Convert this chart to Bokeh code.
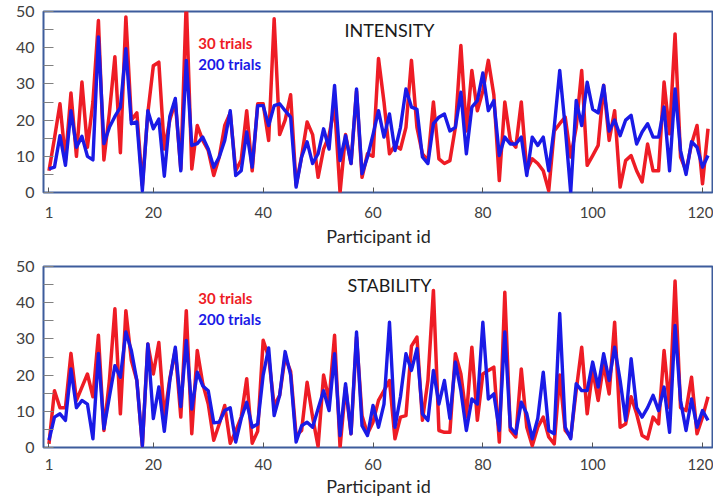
from bokeh.plotting import figure
from bokeh.layouts import column
from bokeh.models import ColumnDataSource, FixedTicker, Label, Range1d
from bokeh.embed import file_html
from bokeh.resources import INLINE

participant_ids = list(range(1, 122))

intensity_30 = [6, 15, 24.5, 9, 27.5, 10, 30.5, 12.5, 25, 47.5,
                9, 22, 37.5, 11, 48.5, 20, 22, 2, 22, 35,
                36, 12, 20, 25, 6.5, 53, 6.5, 18.5, 14.4, 11.6,
                4.7, 9.8, 18.5, 22, 6, 9, 22.6, 6, 24.5, 24.5,
                14.4, 48, 16, 20, 27, 2, 10, 19.5, 16, 4.2,
                12, 15.7, 24, 0, 16, 8, 28, 4.2, 10.7, 10,
                37, 25, 10.7, 13, 12, 18, 36.5, 18, 10.7, 8.8,
                25, 9.3, 8, 8.8, 18, 40.6, 17, 33.7, 22.6, 28,
                36.5, 27, 3.3, 25, 14.4, 12.5, 25, 6, 9.3, 8,
                6, 0.5, 17, 19, 20.8, 9.8, 18, 33.7, 7.5, 10.2,
                13, 29.6, 14.4, 22.6, 1.5, 8.8, 10.2, 6, 2.9, 13.4,
                6, 6, 30.5, 16.2, 43.8, 9.8, 6, 13.4, 18.5, 2.4,
                17.6]

intensity_200 = [6.5, 7, 15.7, 7.5, 22.6, 12.5, 15.5, 10, 9, 43,
                 13.5, 18, 21, 23.5, 39.7, 19, 19.5, 0.5, 22.6, 17.6,
                 20.3, 4.5, 21, 26, 6, 36.5, 13, 13.5, 15.3, 12,
                 7, 9.8, 14.4, 22.6, 4.7, 6, 16.7, 7, 24, 24,
                 18.5, 24, 24.5, 22.6, 20.8, 1.5, 9.8, 14, 8, 10.7,
                 17.6, 12, 29.6, 8.8, 15.7, 8, 28.6, 5.2, 9.8, 16,
                 22.6, 15.3, 21.7, 11.6, 18, 28.6, 23.6, 23, 9.8, 8,
                 19, 20.8, 21.7, 17, 18, 27.7, 10.7, 23.6, 25.4, 33,
                 22.6, 25.4, 10.2, 15.3, 13.4, 13.4, 15.3, 4.7, 15.3, 13,
                 15.3, 6, 18, 33.7, 18, 0, 25.4, 18.5, 30.5, 23,
                 22, 29.6, 17, 20, 15.7, 20, 21.3, 13.4, 16.7, 19,
                 15.3, 15.3, 23.6, 6, 28.6, 11.6, 5, 14, 12.5, 7,
                 10.2]

stability_30 = [1, 15.7, 11, 11, 26, 13, 16.7, 20.3, 14, 31,
                4.7, 18.5, 38.3, 9.3, 37.8, 24, 18.5, 0.5, 28.6, 20.3,
                29, 8.4, 19, 27, 8.4, 37.8, 3.8, 26.8, 17.6, 12,
                2, 6.5, 11.6, 1.2, 4.5, 8.4, 19, 1.2, 4.5, 29.6,
                25, 11.5, 14.4, 25, 21, 3.3, 4.7, 18, 8.4, 0.3,
                20, 13, 31, 0, 16.7, 3.8, 30.5, 8.8, 3.8, 7,
                13, 15.7, 18.5, 2.4, 8.4, 8.8, 28, 30.5, 7.5, 18.5,
                43.4, 4.7, 4.2, 4.2, 25.9, 20.3, 8.4, 27.7, 7.5, 20.3,
                21.3, 22.2, 1.5, 42.9, 4.7, 2.9, 21.7, 5.6, 0.5, 5.6,
                8.4, 2.9, 1, 20, 4.7, 2.9, 15.7, 27.7, 9.3, 21.3,
                13, 23, 14.8, 34.6, 5.6, 6.5, 14, 9.3, 3.3, 2.4,
                8.4, 6.5, 26.8, 11, 46, 11, 10.2, 19.4, 3.8, 8.4,
                14]

stability_200 = [2, 8.4, 9.3, 7.5, 21.7, 11, 13, 12, 2.4, 26,
                 5.2, 14, 22.6, 19.4, 31.9, 26.8, 18.5, 0.5, 28.6, 8,
                 16.7, 4.5, 18.5, 27.7, 11.3, 29.6, 10.6, 20.8, 17, 15.7,
                 6.8, 7, 10.2, 11, 1.5, 8, 12.5, 5.6, 6.5, 20,
                 27.5, 8.8, 14.4, 26.5, 20, 1.5, 6, 7, 5.6, 10.7,
                 15.7, 10.2, 25.9, 3.3, 17.6, 3.8, 31.9, 6, 3.3, 11.6,
                 5.6, 12, 34.6, 5.6, 14, 25.9, 21.3, 27.3, 9.3, 7.5,
                 21.3, 12, 18.5, 8, 23.6, 15.7, 4.7, 13.4, 12, 34.6,
                 13.4, 14.8, 4.7, 31.9, 5.6, 3.8, 12.5, 9.3, 2.4, 8,
                 20.8, 4.7, 3.8, 37, 5.6, 2.4, 17.6, 15.7, 15.7, 23.6,
                 16.7, 25.9, 18.5, 27.7, 18.5, 7.5, 24.5, 11, 8.4, 11,
                 14.4, 10.2, 16.7, 4.2, 33.7, 13, 4.7, 13.4, 5.6, 10.2,
                 7.5]

x_ticks = [1, 20, 40, 60, 80, 100, 120]
y_ticks = [0, 10, 20, 30, 40, 50]
y_minor = [5, 15, 25, 35, 45]
panel_titles = ["INTENSITY", "STABILITY"]
series_labels = ["30 trials", "200 trials"]

RED = "#ee1c25"
BLUE = "#1a1ae6"
FRAME = "#3d5c9c"
FONT = "Lato"


def make_panel(title, red_vals, blue_vals, border_top, border_bottom, frame_h,
               label_standoff, axis_label_standoff):
    src = ColumnDataSource(dict(pid=participant_ids, r=red_vals, b=blue_vals))
    p = figure(frame_width=670, frame_height=frame_h, output_backend="svg", toolbar_location=None,
               x_range=Range1d(0, 122), y_range=Range1d(0, 50),
               min_border_left=43, min_border_right=0,
               min_border_top=border_top, min_border_bottom=border_bottom)
    p.line("pid", "r", source=src, color=RED, line_width=3.5, line_join="round")
    p.line("pid", "b", source=src, color=BLUE, line_width=3.4, line_join="round")

    p.grid.visible = False
    p.outline_line_color = FRAME
    p.outline_line_width = 2
    p.background_fill_color = "white"
    p.border_fill_color = "white"

    xa = p.xaxis[0]
    xa.ticker = FixedTicker(ticks=x_ticks)
    xa.axis_line_color = None
    xa.major_tick_in = 5
    xa.major_tick_out = 0
    xa.major_tick_line_color = "#555555"
    xa.minor_tick_line_color = None
    xa.major_label_text_font = FONT
    xa.major_label_text_font_size = "15px"
    xa.major_label_text_color = "#404040"
    xa.major_label_standoff = label_standoff
    xa.axis_label = "Participant id"
    xa.axis_label_text_font = FONT
    xa.axis_label_text_font_size = "18px"
    xa.axis_label_text_font_style = "normal"
    xa.axis_label_text_color = "#262626"
    xa.axis_label_standoff = axis_label_standoff

    ya = p.yaxis[0]
    ya.ticker = FixedTicker(ticks=y_ticks, minor_ticks=y_minor)
    ya.axis_line_color = None
    ya.major_tick_in = 10
    ya.major_tick_out = 0
    ya.minor_tick_in = 10
    ya.minor_tick_out = 0
    ya.major_tick_line_color = "#808080"
    ya.minor_tick_line_color = "#808080"
    ya.major_label_text_font = FONT
    ya.major_label_text_font_size = "16px"
    ya.major_label_text_color = "#404040"
    ya.major_label_standoff = 9

    p.add_layout(Label(x=63, y=44.8, text=title, text_align="center", text_baseline="middle",
                       text_font=FONT, text_font_size="18px", text_color="#1a1a1a"))
    p.add_layout(Label(x=28.2, y=41.4, text=series_labels[0], text_align="left",
                       text_baseline="middle", text_font=FONT, text_font_size="15px",
                       text_font_style="bold", text_color=RED))
    p.add_layout(Label(x=28.2, y=35.6, text=series_labels[1], text_align="left",
                       text_baseline="middle", text_font=FONT, text_font_size="15px",
                       text_font_style="bold", text_color=BLUE))
    return p


p1 = make_panel(panel_titles[0], intensity_30, intensity_200, 11, 62, 181, 14, 4)
p2 = make_panel(panel_titles[1], stability_30, stability_200, 12, 50, 181, 11, 2)

layout = column(p1, p2, spacing=0)
open("out.html", "w").write(file_html(layout, INLINE))
